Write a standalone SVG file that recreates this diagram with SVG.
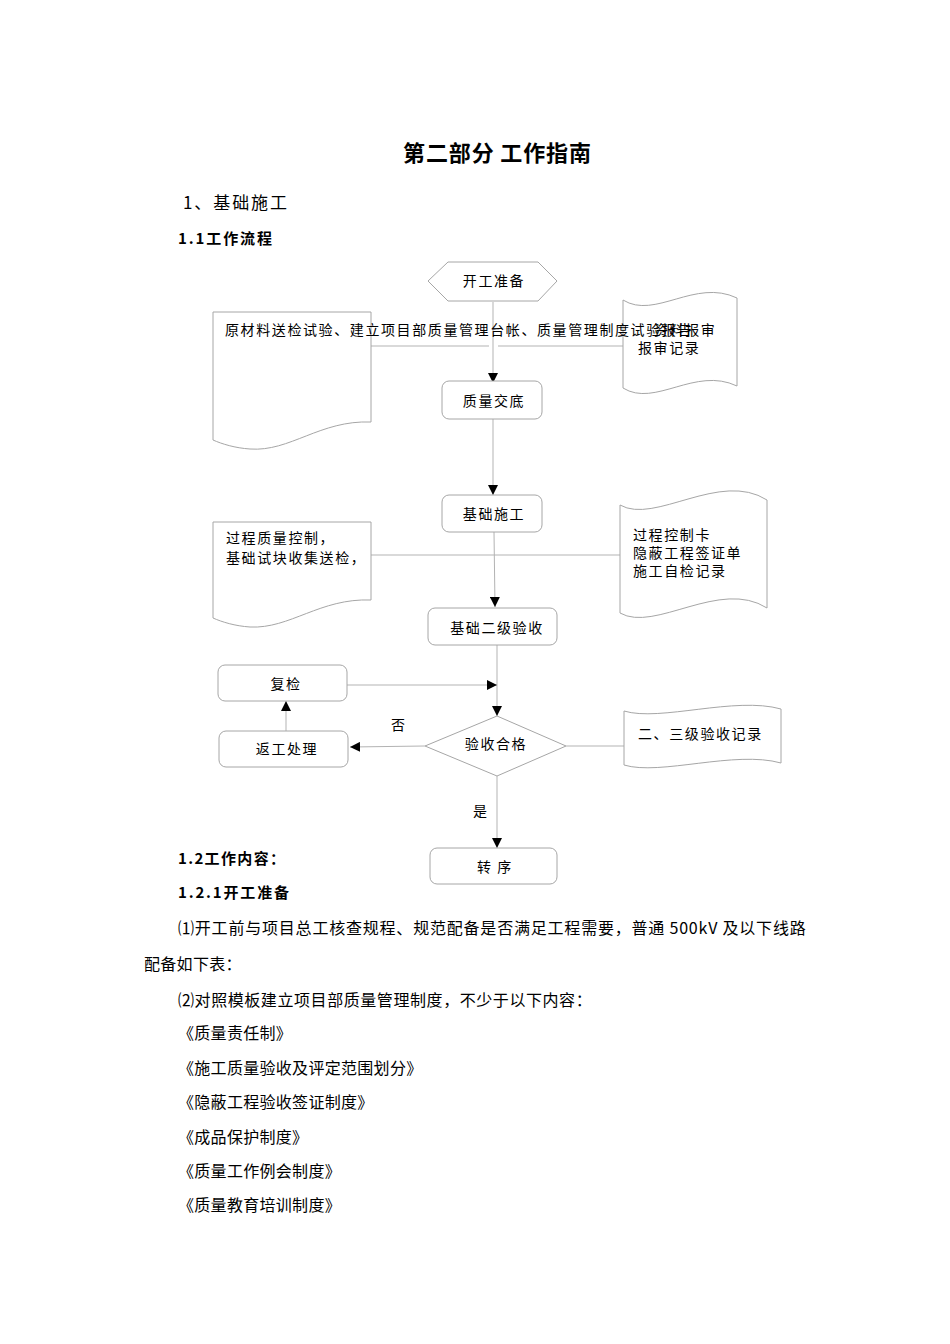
<svg xmlns="http://www.w3.org/2000/svg" width="950" height="1344" viewBox="0 0 950 1344">
<style>
text{font-family:"Noto Sans CJK SC","Noto Sans",sans-serif;fill:#000;dominant-baseline:central}
.fc{font-size:14px;letter-spacing:1.6px}
.fcm{font-size:14px;letter-spacing:1.6px;text-anchor:middle}
.body{font-size:16px;letter-spacing:0.3px}
.h{font-weight:bold}
.shape{fill:#fff;stroke:#a6a6a6;stroke-width:1}
.conn{fill:none;stroke:#b3b3b3;stroke-width:1}
</style>
<defs>
<marker id="arr" markerUnits="userSpaceOnUse" markerWidth="10" markerHeight="10" refX="10" refY="5" orient="auto">
<path d="M0,0 L10,5 L0,10 Z" fill="#000"/>
</marker>
</defs>
<rect width="950" height="1344" fill="#fff"/>

<g id="headings">
<text x="497" y="151" font-size="22" class="h" text-anchor="middle" textLength="188">第二部分 工作指南</text>
<text x="183" y="201" font-size="17" textLength="104">1、基础施工</text>
<text x="178" y="237" font-size="15" class="h" textLength="94">1.1工作流程</text>
</g>

<g id="connectors">
<line class="conn" x1="493" y1="302" x2="493" y2="383" marker-end="url(#arr)"/>
<line class="conn" x1="371" y1="346" x2="489" y2="346"/>
<line class="conn" x1="498" y1="346" x2="623" y2="346"/>
<line class="conn" x1="493" y1="419" x2="493" y2="495" marker-end="url(#arr)"/>
<line class="conn" x1="371" y1="555" x2="620" y2="555"/>
<line class="conn" x1="494" y1="532" x2="495" y2="607" marker-end="url(#arr)"/>
<line class="conn" x1="497" y1="645" x2="497" y2="716" marker-end="url(#arr)"/>
<line class="conn" x1="347" y1="685" x2="497" y2="685" marker-end="url(#arr)"/>
<line class="conn" x1="425" y1="746" x2="350" y2="747" marker-end="url(#arr)"/>
<line class="conn" x1="286" y1="731" x2="286" y2="701" marker-end="url(#arr)"/>
<line class="conn" x1="566" y1="746" x2="624" y2="746"/>
<line class="conn" x1="497" y1="776" x2="497" y2="848" marker-end="url(#arr)"/>
<text x="391" y="724" font-size="14">否</text>
<text x="473" y="810" font-size="14">是</text>
</g>

<g id="start">
<polygon class="shape" points="428,281 448,262 538,262 557,281 538,301 448,301"/>
<text class="fcm" x="494" y="280">开工准备</text>
</g>

<g id="doc-materials">
<path class="shape" d="M213,312 L371,312 L371,422 C320,420 290,452 250,449 C235,448 222,444 213,440 Z"/>
</g>

<g id="tape-report">
<path class="shape" d="M623,300 C655,320 695,278 737,298 L737,386 C695,366 655,408 623,388 Z"/>
<text class="fc" x="654" y="329">资料报审</text>
<text class="fc" x="638" y="347">报审记录</text>
</g>

<g id="doc-materials-text">
<text class="fc" x="225" y="329">原材料送检试验、建立项目部质量管理台帐、质量管理制度试验报告</text>
</g>

<g id="brief">
<rect class="shape" x="442" y="381" width="100" height="38" rx="7"/>
<text class="fcm" x="494" y="400">质量交底</text>
</g>

<g id="construction">
<rect class="shape" x="442" y="495" width="100" height="37" rx="7"/>
<text class="fcm" x="494" y="513">基础施工</text>
</g>

<g id="doc-process">
<path class="shape" d="M213,522 L371,522 L371,600 C320,598 290,629 250,627 C235,626 222,622 213,618 Z"/>
<text class="fc" x="226" y="537">过程质量控制，</text>
<text class="fc" x="226" y="557">基础试块收集送检，</text>
</g>

<g id="tape-records">
<path class="shape" d="M620,505 C655,525 720,470 767,500 L767,608 C720,578 655,633 620,613 Z"/>
<text class="fc" x="633" y="534">过程控制卡</text>
<text class="fc" x="633" y="552">隐蔽工程签证单</text>
<text class="fc" x="633" y="570">施工自检记录</text>
</g>

<g id="level2">
<rect class="shape" x="428" y="608" width="129" height="37" rx="7"/>
<text class="fcm" x="497" y="627">基础二级验收</text>
</g>

<g id="recheck">
<rect class="shape" x="218" y="665" width="129" height="36" rx="7"/>
<text class="fcm" x="286" y="683">复检</text>
</g>

<g id="rework">
<rect class="shape" x="219" y="731" width="129" height="36" rx="7"/>
<text class="fcm" x="287" y="748">返工处理</text>
</g>

<g id="decision">
<polygon class="shape" points="425,746 497,716 566,746 497,776"/>
<text class="fcm" x="496" y="743">验收合格</text>
</g>

<g id="tape-acceptance">
<path class="shape" d="M624,711 C660,722 735,696 781,709 L781,763 C735,750 660,776 624,765 Z"/>
<text class="fc" x="638" y="733">二、三级验收记录</text>
</g>

<g id="transfer">
<rect class="shape" x="430" y="848" width="127" height="36" rx="7"/>
<text class="fcm" x="495" y="866">转 序</text>
</g>

<g id="content">
<text x="178" y="857" font-size="15" class="h" textLength="107">1.2工作内容：</text>
<text x="178" y="891" font-size="15" class="h" textLength="111">1.2.1开工准备</text>
<text class="body" x="178" y="927" textLength="628">⑴开工前与项目总工核查规程、规范配备是否满足工程需要，普通 500kV 及以下线路</text>
<text class="body" x="144" y="963">配备如下表：</text>
<text class="body" x="178" y="999" textLength="414">⑵对照模板建立项目部质量管理制度，不少于以下内容：</text>
<text class="body" x="178" y="1032">《质量责任制》</text>
<text class="body" x="178" y="1067">《施工质量验收及评定范围划分》</text>
<text class="body" x="178" y="1101">《隐蔽工程验收签证制度》</text>
<text class="body" x="178" y="1136">《成品保护制度》</text>
<text class="body" x="178" y="1170">《质量工作例会制度》</text>
<text class="body" x="178" y="1204">《质量教育培训制度》</text>
</g>
</svg>
